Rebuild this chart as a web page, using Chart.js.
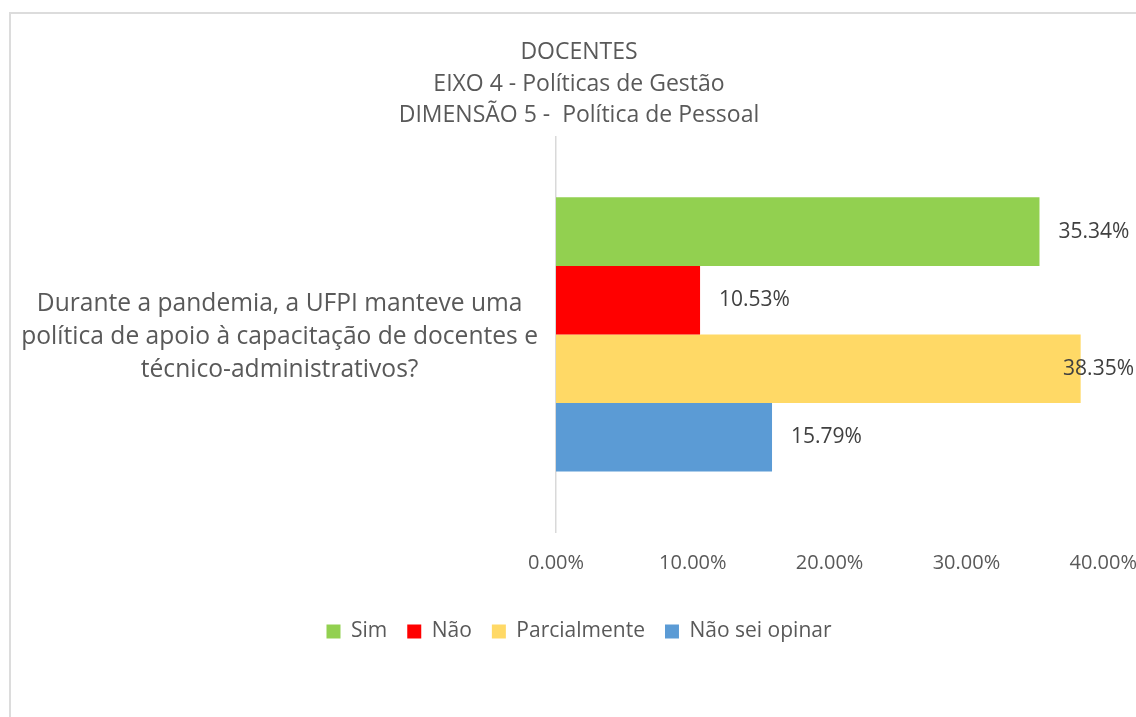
<!DOCTYPE html>
<html>
<head>
<meta charset="utf-8">
<script src="https://cdn.jsdelivr.net/npm/chart.js@4"></script>
<style>
  html, body { margin: 0; padding: 0; overflow: hidden; background: #fff; }
  #borda { position: absolute; left: 9px; top: 12px; width: 1200px; height: 800px; border: 2px solid #dcdcdc; }
  #caixa { position: absolute; left: 0; top: 0; width: 1148px; height: 717px; }
</style>
</head>
<body>
<div id="borda"></div>
<div id="caixa"><canvas id="grafico"></canvas></div>
<script>
// dados
const categorias = [['Durante a pandemia, a UFPI manteve uma', 'política de apoio à capacitação de docentes e', 'técnico-administrativos?']];
const series = ['Sim', 'Não', 'Parcialmente', 'Não sei opinar'];
const valores = [[35.34], [10.53], [38.35], [15.79]];
const cores = ['#92d050', '#ff0000', '#ffd966', '#5b9bd5'];
const titulo = ['DOCENTES', 'EIXO 4 - Políticas de Gestão', 'DIMENSÃO 5 -  Política de Pessoal'];
const ticksX = [0, 10, 20, 30, 40];

const fonte = 'Open Sans';
const cinza = '#595959';

// rotulos de valor ao lado das barras
const rotulos = {
  id: 'rotulos',
  afterDatasetsDraw(chart) {
    const ctx = chart.ctx;
    ctx.save();
    ctx.font = '21px ' + fonte;
    ctx.fillStyle = '#404040';
    ctx.textBaseline = 'middle';
    chart.data.datasets.forEach((ds, i) => {
      chart.getDatasetMeta(i).data.forEach((barra, j) => {
        const txt = ds.data[j].toFixed(2) + '%';
        const w = ctx.measureText(txt).width;
        const x = Math.min(barra.x + 19, 1134 - w);
        ctx.fillText(txt, x, barra.y);
      });
    });
    ctx.restore();
  }
};

const ctx = document.getElementById('grafico').getContext('2d');
new Chart(ctx, {
  type: 'bar',
  data: {
    labels: categorias,
    datasets: series.map((nome, i) => ({
      label: nome,
      data: valores[i],
      backgroundColor: cores[i],
      borderWidth: 0,
      categoryPercentage: 0.694,
      barPercentage: 1
    }))
  },
  options: {
    indexAxis: 'y',
    responsive: true,
    maintainAspectRatio: false,
    animation: false,
    layout: { padding: { left: 10, right: 0, top: 0, bottom: 65 } },
    plugins: {
      title: {
        display: true,
        text: titulo,
        color: cinza,
        font: { family: fonte, size: 23, weight: 'normal', lineHeight: 1.39 },
        padding: { top: 36, bottom: 5 }
      },
      legend: {
        position: 'bottom',
        labels: {
          color: cinza,
          font: { family: fonte, size: 21 },
          boxWidth: 14,
          boxHeight: 14,
          padding: 20
        }
      },
      tooltip: { enabled: false }
    },
    scales: {
      x: {
        min: 0,
        max: 40,
        afterBuildTicks(scale) { scale.ticks = ticksX.map(v => ({ value: v })); },
        afterFit(scale) { scale.height = 69; },
        grid: { display: false },
        border: { display: false },
        ticks: {
          color: cinza,
          font: { family: fonte, size: 20 },
          padding: 11,
          callback: v => v.toFixed(2) + '%'
        }
      },
      y: {
        afterFit(scale) { scale.width = 546; },
        grid: { display: false },
        border: { display: true, color: '#d9d9d9', width: 1.5 },
        ticks: {
          color: cinza,
          font: { family: fonte, size: 24.6, lineHeight: 1.36 },
          crossAlign: 'center',
          padding: 10,
          labelOffset: 2.5
        }
      }
    }
  },
  plugins: [rotulos]
});
</script>
</body>
</html>
